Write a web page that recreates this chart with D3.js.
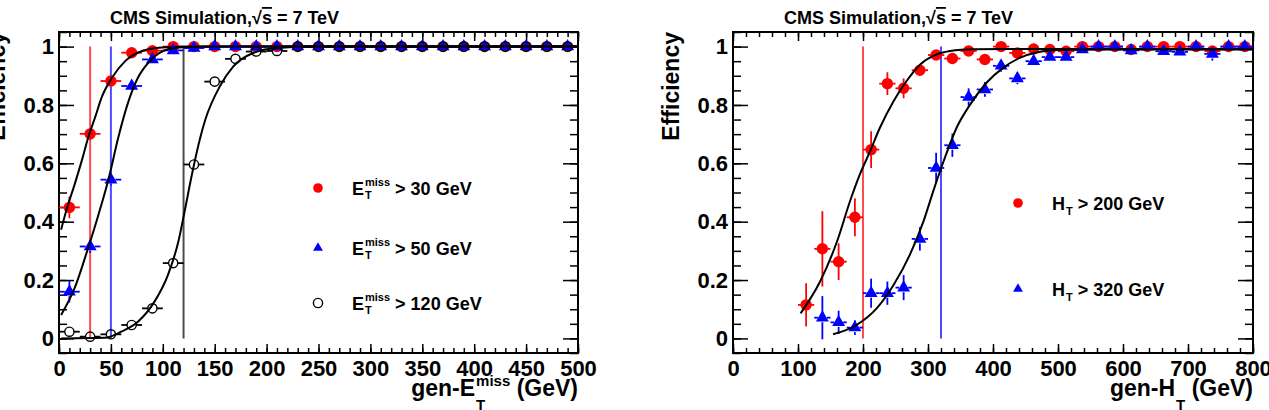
<!DOCTYPE html>
<html>
<head>
<meta charset="utf-8">
<script src="https://cdn.jsdelivr.net/npm/d3@7"></script>
<style>
  body { margin: 0; background: #fff; }
  svg { display: block; font-family: "Liberation Sans", Arial, sans-serif; font-weight: bold; }
</style>
</head>
<body>
<svg id="chart" width="1269" height="410"></svg>
<script>
// ---- left panel: gen-MET efficiency ----
const metBins = [10, 30, 50, 70, 90, 110, 130, 150, 170, 190, 210, 230, 250, 270, 290, 310, 330, 350, 370, 390, 410, 430, 450, 470, 490];
const metEff30  = [0.449, 0.701, 0.882, 0.979, 0.986, 1, 1, 1, 1, 1, 1, 1, 1, 1, 1, 1, 1, 1, 1, 1, 1, 1, 1, 1, 1];
const metErr30  = [0.037, 0.02, 0.012, 0.006, 0.004, 0.002, 0, 0, 0, 0, 0, 0, 0, 0, 0, 0, 0, 0, 0, 0, 0, 0, 0, 0, 0];
const metEff50  = [0.16, 0.315, 0.544, 0.865, 0.956, 0.987, 0.995, 1, 1, 1, 1, 1, 1, 1, 1, 1, 1, 1, 1, 1, 1, 1, 1, 1, 1];
const metErr50  = [0.037, 0.022, 0.02, 0.012, 0.008, 0.004, 0.002, 0, 0, 0, 0, 0, 0, 0, 0, 0, 0, 0, 0, 0, 0, 0, 0, 0, 0];
const metEff120 = [0.023, 0.006, 0.014, 0.046, 0.103, 0.258, 0.596, 0.88, 0.958, 0.983, 0.985, 1, 1, 1, 1, 1, 1, 1, 1, 1, 1, 1, 1, 1, 1];
const metErr120 = [0.008, 0.004, 0.005, 0.008, 0.01, 0.015, 0.015, 0.01, 0.006, 0.004, 0.004, 0, 0, 0, 0, 0, 0, 0, 0, 0, 0, 0, 0, 0, 0];

// fitted turn-on curves
const metFit30X  = [2, 8, 15, 22, 28, 35, 41, 51, 64, 80, 99, 130, 200, 500];
const metFit30Y  = [0.372, 0.45, 0.527, 0.61, 0.687, 0.76, 0.825, 0.893, 0.951, 0.985, 0.997, 1, 1, 1];
const metFit50X  = [2, 15, 28, 38, 48, 57, 67, 76, 89, 105, 121, 160, 500];
const metFit50Y  = [0.08, 0.172, 0.309, 0.424, 0.55, 0.687, 0.813, 0.893, 0.956, 0.991, 0.999, 1, 1];
const metFit120X = [2, 44, 60, 76, 92, 105, 115, 121, 128, 136, 141, 155, 168, 187, 210, 250, 500];
const metFit120Y = [0, 0.002, 0.023, 0.057, 0.126, 0.218, 0.332, 0.435, 0.561, 0.687, 0.75, 0.864, 0.932, 0.978, 0.995, 1, 1];

const metCuts = [30, 50, 120];
const metTicks = [0, 50, 100, 150, 200, 250, 300, 350, 400, 450, 500];
const metTickLabels = ["0", "50", "100", "150", "200", "250", "300", "350", "400", "450", "500"];

// ---- right panel: gen-HT efficiency ----
const htBins = [112.5, 137.5, 162.5, 187.5, 212.5, 237.5, 262.5, 287.5, 312.5, 337.5, 362.5, 387.5, 412.5, 437.5,
                462.5, 487.5, 512.5, 537.5, 562.5, 587.5, 612.5, 637.5, 662.5, 687.5, 712.5, 737.5, 762.5, 787.5];
const htEff200 = [0.115, 0.307, 0.263, 0.415, 0.647, 0.873, 0.857, 0.919, 0.971, 0.959, 0.985, 0.956, 1, 0.978,
                  0.992, 0.99, 0.984, 1, 1, 1, 0.99, 1, 1, 1, 1, 0.985, 1, 1];
const htErr200 = [0.074, 0.129, 0.063, 0.065, 0.063, 0.039, 0.034, 0.02, 0.012, 0.012, 0.008, 0.01, 0.005, 0.008,
                  0.005, 0.005, 0.006, 0.003, 0.003, 0.003, 0.005, 0.003, 0.003, 0.003, 0.003, 0.008, 0.003, 0.003];
const htEff320 = [null, 0.071, 0.055, 0.037, 0.155, 0.155, 0.174, 0.341, 0.584, 0.662, 0.827, 0.853, 0.934, 0.891,
                  0.95, 0.964, 0.964, 0.99, 1, 1, 0.987, 1, 0.984, 0.982, 1, 0.975, 1, 1];
const htErr320 = [null, 0.074, 0.04, 0.025, 0.05, 0.04, 0.043, 0.04, 0.052, 0.04, 0.03, 0.025, 0.02, 0.02,
                  0.015, 0.012, 0.012, 0.006, 0.004, 0.004, 0.008, 0.004, 0.01, 0.01, 0.004, 0.023, 0.004, 0.004];

const htFit200X = [104, 134, 160, 180, 195, 211, 226, 247, 267, 288, 308, 334, 370, 420, 500, 800];
const htFit200Y = [0.086, 0.195, 0.332, 0.47, 0.561, 0.642, 0.722, 0.813, 0.882, 0.939, 0.968, 0.985, 0.991, 0.992, 0.992, 0.992];
const htFit320X = [154, 190, 221, 247, 272, 293, 308, 324, 344, 365, 390, 416, 442, 467, 503, 560, 800];
const htFit320Y = [0.014, 0.046, 0.103, 0.183, 0.286, 0.401, 0.504, 0.607, 0.722, 0.802, 0.876, 0.928, 0.962, 0.98, 0.988, 0.99, 0.99];

const htCuts = [200, 320];
const htTicks = [0, 100, 200, 300, 400, 500, 600, 700, 800];
const htTickLabels = ["0", "100", "200", "300", "400", "500", "600", "700", "800"];

const effTicks = [0, 0.2, 0.4, 0.6, 0.8, 1];
const effTickLabels = ["0", "0.2", "0.4", "0.6", "0.8", "1"];

const svg = d3.select("#chart");
const plotTop = 32, plotBottom = 353;
const markerGap = 4.5; // error bars stop at the marker edge, like ROOT does

function richText(parent, xPos, yPos, p, anchor) {
    const g = parent.append("g");
    const base = g.append("text").attr("font-size", p.size).text(p.base);
    const wBase = base.node().getComputedTextLength();
    let wScript = 0;
    if (p.sup) {
        const s = g.append("text").attr("x", wBase + 1).attr("y", p.supDy)
            .attr("font-size", p.small).text(p.sup);
        wScript = Math.max(wScript, s.node().getComputedTextLength() + 1);
    }
    if (p.sub) {
        const s = g.append("text").attr("x", wBase + 1).attr("y", p.subDy)
            .attr("font-size", p.small).text(p.sub);
        wScript = Math.max(wScript, s.node().getComputedTextLength() + 1);
    }
    const rest = g.append("text").attr("x", wBase + wScript).attr("font-size", p.size).text(p.rest);
    const total = wBase + wScript + rest.node().getComputedTextLength();
    g.attr("transform", `translate(${anchor === "end" ? xPos - total : xPos},${yPos})`);
}

function drawMarkers(sel, coords, s) {
    if (s.marker === "triangle") {
        sel.selectAll(null).data(coords).enter().append("path")
            .attr("d", d3.symbol(d3.symbolTriangle, 42))
            .attr("transform", (d) => `translate(${d[0]},${d[1]})`)
            .attr("fill", s.color);
    } else if (s.marker === "open") {
        sel.selectAll(null).data(coords).enter().append("circle")
            .attr("cx", (d) => d[0]).attr("cy", (d) => d[1]).attr("r", 4.6)
            .attr("fill", "none").attr("stroke", "#000").attr("stroke-width", 1.4);
    } else {
        sel.selectAll(null).data(coords).enter().append("circle")
            .attr("cx", (d) => d[0]).attr("cy", (d) => d[1]).attr("r", 4.8)
            .attr("fill", s.color);
    }
}

function drawPanel(cfg) {
    const g = svg.append("g");
    const x = d3.scaleLinear().domain(cfg.xDomain).range([cfg.left, cfg.right]);
    const y = d3.scaleLinear().domain([-0.05, 1.05]).range([plotBottom, plotTop]);

    // axes: ROOT style, ticks inside the frame on all four sides
    const axes = g.append("g");
    axes.append("g").attr("transform", `translate(${cfg.left},0)`)
        .call(d3.axisLeft(y).tickValues(effTicks).tickSize(-15).tickPadding(5)
            .tickFormat((d, i) => effTickLabels[i]));
    axes.append("g").attr("transform", `translate(${cfg.left},0)`)
        .call(d3.axisLeft(y).ticks(20).tickSize(-8).tickFormat(""));
    axes.append("g").attr("transform", `translate(${cfg.right},0)`)
        .call(d3.axisRight(y).tickValues(effTicks).tickSize(-15).tickFormat(""));
    axes.append("g").attr("transform", `translate(${cfg.right},0)`)
        .call(d3.axisRight(y).ticks(20).tickSize(-8).tickFormat(""));
    axes.append("g").attr("transform", `translate(0,${plotBottom})`)
        .call(d3.axisBottom(x).tickValues(cfg.ticks).tickSize(-9).tickPadding(7)
            .tickFormat((d, i) => cfg.tickLabels[i]));
    axes.append("g").attr("transform", `translate(0,${plotBottom})`)
        .call(d3.axisBottom(x).ticks(cfg.minorCount).tickSize(-5).tickFormat(""));
    axes.append("g").attr("transform", `translate(0,${plotTop})`)
        .call(d3.axisTop(x).tickValues(cfg.ticks).tickSize(-9).tickFormat(""));
    axes.append("g").attr("transform", `translate(0,${plotTop})`)
        .call(d3.axisTop(x).ticks(cfg.minorCount).tickSize(-5).tickFormat(""));
    axes.selectAll(".domain").remove();
    axes.selectAll(".tick line").attr("stroke", "#000").attr("stroke-width", 1.5);
    axes.selectAll(".tick text").attr("font-size", 22).attr("fill", "#000")
        .attr("font-family", "Liberation Sans, Arial, sans-serif").attr("font-weight", "bold");

    g.append("rect")
        .attr("x", cfg.left).attr("y", plotTop)
        .attr("width", cfg.right - cfg.left).attr("height", plotBottom - plotTop)
        .attr("fill", "none").attr("stroke", "#000").attr("stroke-width", 2);

    // threshold lines
    g.selectAll(".cut").data(cfg.cuts).enter().append("line")
        .attr("x1", (d) => x(d.value)).attr("x2", (d) => x(d.value))
        .attr("y1", y(0)).attr("y2", y(1))
        .attr("stroke", (d) => d.color).attr("stroke-opacity", 0.7).attr("stroke-width", 2);

    const line = d3.line().x((d) => x(d[0])).y((d) => y(d[1])).curve(d3.curveMonotoneX);

    cfg.series.forEach((s) => {
        const pts = cfg.bins.map((b, i) => ({ x: b, v: s.eff[i], e: s.err[i] }))
            .filter((d) => d.v !== null);
        const sg = g.append("g").attr("stroke", s.color).attr("stroke-width", 1.8);
        // horizontal bars: two halves either side of the marker
        [-1, 1].forEach((side) => {
            sg.selectAll(null).data(pts).enter().append("line")
                .attr("x1", (d) => x(d.x) + side * markerGap)
                .attr("x2", (d) => x(d.x + side * cfg.halfBin))
                .attr("y1", (d) => y(d.v)).attr("y2", (d) => y(d.v));
            sg.selectAll(null).data(pts.filter((d) => y(d.v - d.e) - y(d.v) > markerGap)).enter().append("line")
                .attr("x1", (d) => x(d.x)).attr("x2", (d) => x(d.x))
                .attr("y1", (d) => y(d.v) - side * markerGap)
                .attr("y2", (d) => y(d.v + side * d.e));
        });
        drawMarkers(sg.append("g").attr("stroke", null), pts.map((d) => [x(d.x), y(d.v)]), s);

        g.append("path")
            .datum(s.fitX.map((v, i) => [v, s.fitY[i]]))
            .attr("d", line)
            .attr("fill", "none").attr("stroke", "#000").attr("stroke-width", 2);
    });

    // title
    const title = g.append("text").attr("x", cfg.left + 51).attr("y", 24).attr("font-size", 18);
    title.append("tspan").text("CMS Simulation,\u221A");
    title.append("tspan").attr("text-decoration", "overline").text("s");
    title.append("tspan").text(" = 7 TeV");

    // y axis title
    g.append("text")
        .attr("transform", `translate(${cfg.left - 54},${plotTop}) rotate(-90)`)
        .attr("text-anchor", "end").attr("font-size", 23).text("Efficiency");

    // x axis title
    richText(g, cfg.right, 396, cfg.xTitle, "end");

    // legend
    cfg.series.forEach((s, i) => {
        const ly = cfg.legendY[i];
        drawMarkers(g, [[cfg.legendX, ly]], s);
        richText(g, cfg.legendX + 34, ly + 7, s.label, "start");
    });
}

const metLabel = (rest) => ({ base: "E", sup: "miss", sub: "T", rest: rest, size: 18, small: 11, supDy: -9, subDy: 4 });
const htLabel = (rest) => ({ base: "H", sub: "T", rest: rest, size: 18, small: 11, subDy: 5 });

drawPanel({
    left: 59, right: 578, xDomain: [0, 500], ticks: metTicks, tickLabels: metTickLabels, minorCount: 50,
    bins: metBins, halfBin: 10,
    cuts: [{ value: metCuts[0], color: "#ff0000" }, { value: metCuts[1], color: "#0000ff" }, { value: metCuts[2], color: "#000" }],
    series: [
        { eff: metEff30, err: metErr30, color: "#ff0000", marker: "dot", fitX: metFit30X, fitY: metFit30Y, label: metLabel("\u00A0> 30 GeV") },
        { eff: metEff50, err: metErr50, color: "#0000ff", marker: "triangle", fitX: metFit50X, fitY: metFit50Y, label: metLabel("\u00A0> 50 GeV") },
        { eff: metEff120, err: metErr120, color: "#000", marker: "open", fitX: metFit120X, fitY: metFit120Y, label: metLabel("\u00A0> 120 GeV") }
    ],
    legendX: 318, legendY: [188, 248, 303],
    xTitle: { base: "gen-E", sup: "miss", sub: "T", rest: "\u00A0(GeV)", size: 23, small: 15, supDy: -10, subDy: 14 }
});

drawPanel({
    left: 733, right: 1253, xDomain: [0, 800], ticks: htTicks, tickLabels: htTickLabels, minorCount: 40,
    bins: htBins, halfBin: 12.5,
    cuts: [{ value: htCuts[0], color: "#ff0000" }, { value: htCuts[1], color: "#0000ff" }],
    series: [
        { eff: htEff200, err: htErr200, color: "#ff0000", marker: "dot", fitX: htFit200X, fitY: htFit200Y, label: htLabel("\u00A0> 200 GeV") },
        { eff: htEff320, err: htErr320, color: "#0000ff", marker: "triangle", fitX: htFit320X, fitY: htFit320Y, label: htLabel("\u00A0> 320 GeV") }
    ],
    legendX: 1018, legendY: [203, 289],
    xTitle: { base: "gen-H", sub: "T", rest: "\u00A0(GeV)", size: 23, small: 15, subDy: 14 }
});
</script>
</body>
</html>
